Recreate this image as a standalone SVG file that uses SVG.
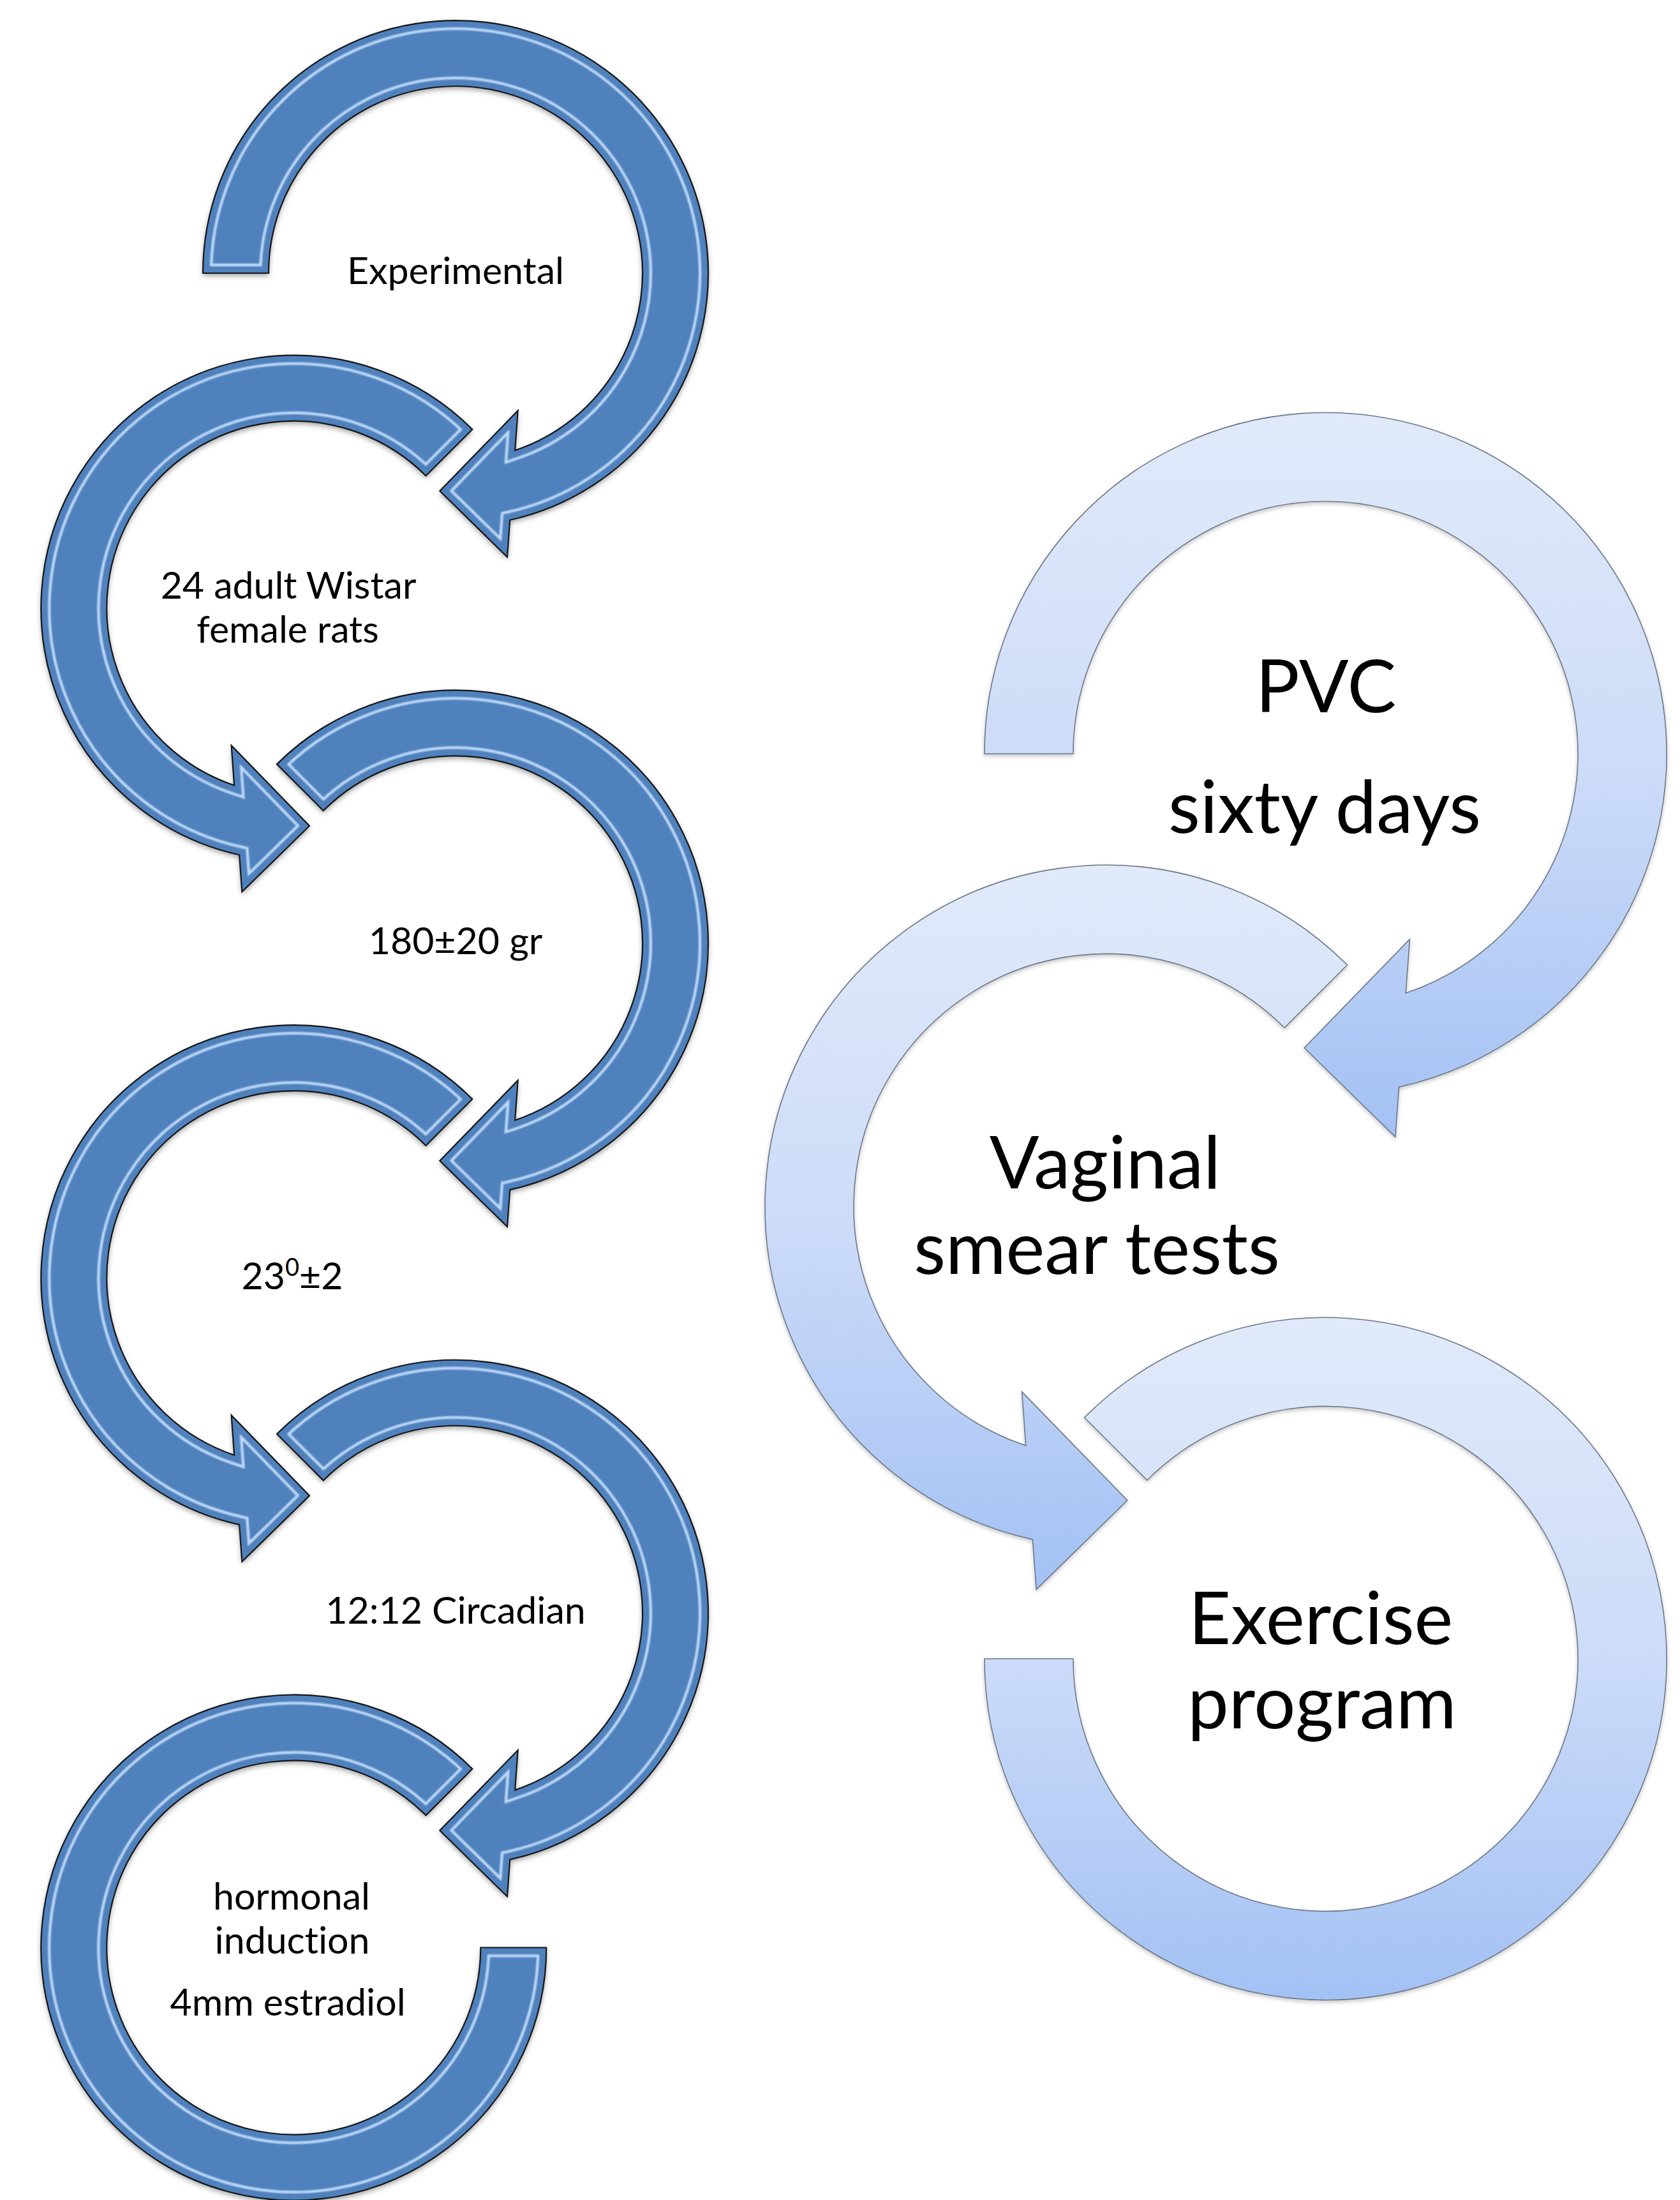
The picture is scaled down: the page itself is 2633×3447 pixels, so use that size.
<svg xmlns="http://www.w3.org/2000/svg" width="2633" height="3447" viewBox="0 0 2633 3447">
  <style>
    .lt{font-family:Lato,"Open Sans","Liberation Sans",sans-serif;font-size:59px;fill:#000;text-anchor:middle;font-variant-ligatures:none}
    .rt{font-family:Lato,"Open Sans","Liberation Sans",sans-serif;font-size:115px;fill:#000;text-anchor:middle;font-variant-ligatures:none}
    .body{fill:#4F81BD}
    .hl{fill:none;stroke:#BFDCFB;stroke-width:30}
    .hl2{fill:none;stroke:#4F81BD;stroke-width:22}
    .edge{fill:none;stroke:#161616;stroke-width:2.2;stroke-linejoin:miter}
    .soft{fill:url(#softFill);stroke:#6C7888;stroke-width:1.6;stroke-linejoin:miter}
  </style>
  <defs>
    <!-- dark blue step arrows, left column (outer r 396, inner r 293) -->
    <path id="a1" d="M318,428 A396,396 0 1 1 799.22,814.77 L795,872.7 L689.3,769.3 L811.7,643.3 L807.15,705.82 A293,293 0 1 0 421,428 Z"/>
    <path id="a2" d="M740.31,672.69 A396,396 0 1 0 375.08,1339.47 L379.3,1397.4 L485,1294 L362.6,1168 L367.15,1230.52 A293,293 0 1 1 667.48,745.52 Z"/>
    <path id="a3" d="M433.99,1197.39 A396,396 0 1 1 799.22,1864.17 L795,1922.1 L689.3,1818.7 L811.7,1692.7 L807.15,1755.22 A293,293 0 1 0 506.82,1270.22 Z"/>
    <path id="a4" d="M740.31,1722.09 A396,396 0 1 0 375.08,2388.87 L379.3,2446.8 L485,2343.4 L362.6,2217.4 L367.15,2279.92 A293,293 0 1 1 667.48,1794.92 Z"/>
    <path id="a5" d="M433.99,2246.79 A396,396 0 1 1 799.22,2913.57 L795,2971.5 L689.3,2868.1 L811.7,2742.1 L807.15,2804.62 A293,293 0 1 0 506.82,2319.62 Z"/>
    <path id="a6" d="M740.31,2771.49 A396,396 0 1 0 856.3,3051.5 L753.3,3051.5 A293,293 0 1 1 667.48,2844.32 Z"/>
    <clipPath id="k1"><use href="#a1"/></clipPath>
    <clipPath id="k2"><use href="#a2"/></clipPath>
    <clipPath id="k3"><use href="#a3"/></clipPath>
    <clipPath id="k4"><use href="#a4"/></clipPath>
    <clipPath id="k5"><use href="#a5"/></clipPath>
    <clipPath id="k6"><use href="#a6"/></clipPath>
    <linearGradient id="softFill" x1="0" y1="0" x2="0" y2="1">
      <stop offset="0" stop-color="#E1EAFA"/>
      <stop offset="0.5" stop-color="#CCDBF8"/>
      <stop offset="1" stop-color="#A3C1F4"/>
    </linearGradient>
    <filter id="shadowDark" x="-10%" y="-10%" width="120%" height="120%">
      <feDropShadow dx="0" dy="4" stdDeviation="4" flood-color="#000" flood-opacity="0.38"/>
    </filter>
    <filter id="shadowSoft" x="-10%" y="-10%" width="120%" height="120%">
      <feDropShadow dx="0" dy="3" stdDeviation="3" flood-color="#000" flood-opacity="0.22"/>
    </filter>
    <filter id="glow" x="-5%" y="-5%" width="110%" height="110%">
      <feGaussianBlur stdDeviation="1.2"/>
    </filter>
  </defs>

  <rect width="2633" height="3447" fill="#fff"/>

  <!-- left column -->
  <g id="step-experimental">
    <use href="#a1" class="body" filter="url(#shadowDark)"/>
    <g clip-path="url(#k1)" filter="url(#glow)"><use href="#a1" class="hl"/><use href="#a1" class="hl2"/></g>
    <use href="#a1" class="edge"/>
    <text class="lt" x="714" y="445">Experimental</text>
  </g>
  <g id="step-rats">
    <use href="#a2" class="body" filter="url(#shadowDark)"/>
    <g clip-path="url(#k2)" filter="url(#glow)"><use href="#a2" class="hl"/><use href="#a2" class="hl2"/></g>
    <use href="#a2" class="edge"/>
    <text class="lt" x="452" y="938">24 adult Wistar</text>
    <text class="lt" x="451" y="1007">female rats</text>
  </g>
  <g id="step-weight">
    <use href="#a3" class="body" filter="url(#shadowDark)"/>
    <g clip-path="url(#k3)" filter="url(#glow)"><use href="#a3" class="hl"/><use href="#a3" class="hl2"/></g>
    <use href="#a3" class="edge"/>
    <text class="lt" x="714" y="1495">180±20 gr</text>
  </g>
  <g id="step-temperature">
    <use href="#a4" class="body" filter="url(#shadowDark)"/>
    <g clip-path="url(#k4)" filter="url(#glow)"><use href="#a4" class="hl"/><use href="#a4" class="hl2"/></g>
    <use href="#a4" class="edge"/>
    <text class="lt" x="458" y="2020">23<tspan font-size="38" dy="-21">0</tspan><tspan dy="21">±2</tspan></text>
  </g>
  <g id="step-light-cycle">
    <use href="#a5" class="body" filter="url(#shadowDark)"/>
    <g clip-path="url(#k5)" filter="url(#glow)"><use href="#a5" class="hl"/><use href="#a5" class="hl2"/></g>
    <use href="#a5" class="edge"/>
    <text class="lt" x="714" y="2544">12:12 Circadian</text>
  </g>
  <g id="step-induction">
    <use href="#a6" class="body" filter="url(#shadowDark)"/>
    <g clip-path="url(#k6)" filter="url(#glow)"><use href="#a6" class="hl"/><use href="#a6" class="hl2"/></g>
    <use href="#a6" class="edge"/>
    <text class="lt" x="457" y="2992">hormonal</text>
    <text class="lt" x="458" y="3061">induction</text>
    <text class="lt" x="451" y="3158">4mm estradiol</text>
  </g>

  <!-- right column (outer r 534.6, inner r 395.55) -->
  <g id="step-pvc">
    <path class="soft" filter="url(#shadowSoft)" d="M1542.9,1181 A534.6,534.6 0 1 1 2192.55,1703.14 L2186.85,1781.35 L2044.15,1641.76 L2209.4,1471.66 L2203.25,1556.06 A395.55,395.55 0 1 0 1681.95,1181 Z"/>
    <text class="rt" x="2078" y="1116">PVC</text>
    <text class="rt" x="2076" y="1305">sixty days</text>
  </g>
  <g id="step-smear">
    <path class="soft" filter="url(#shadowSoft)" d="M2111.52,1511.98 A534.6,534.6 0 1 0 1618.45,2412.14 L1624.15,2490.35 L1766.85,2350.76 L1601.6,2180.66 L1607.75,2265.06 A395.55,395.55 0 1 1 2013.2,1610.3 Z"/>
    <text class="rt" x="1732" y="1862">Vaginal</text>
    <text class="rt" x="1719" y="1996">smear tests</text>
  </g>
  <g id="step-exercise">
    <path class="soft" filter="url(#shadowSoft)" d="M1699.48,2220.98 A534.6,534.6 0 1 1 1542.9,2599 L1681.95,2599 A395.55,395.55 0 1 0 1797.8,2319.3 Z"/>
    <text class="rt" x="2070" y="2576">Exercise</text>
    <text class="rt" x="2072" y="2708">program</text>
  </g>
</svg>
